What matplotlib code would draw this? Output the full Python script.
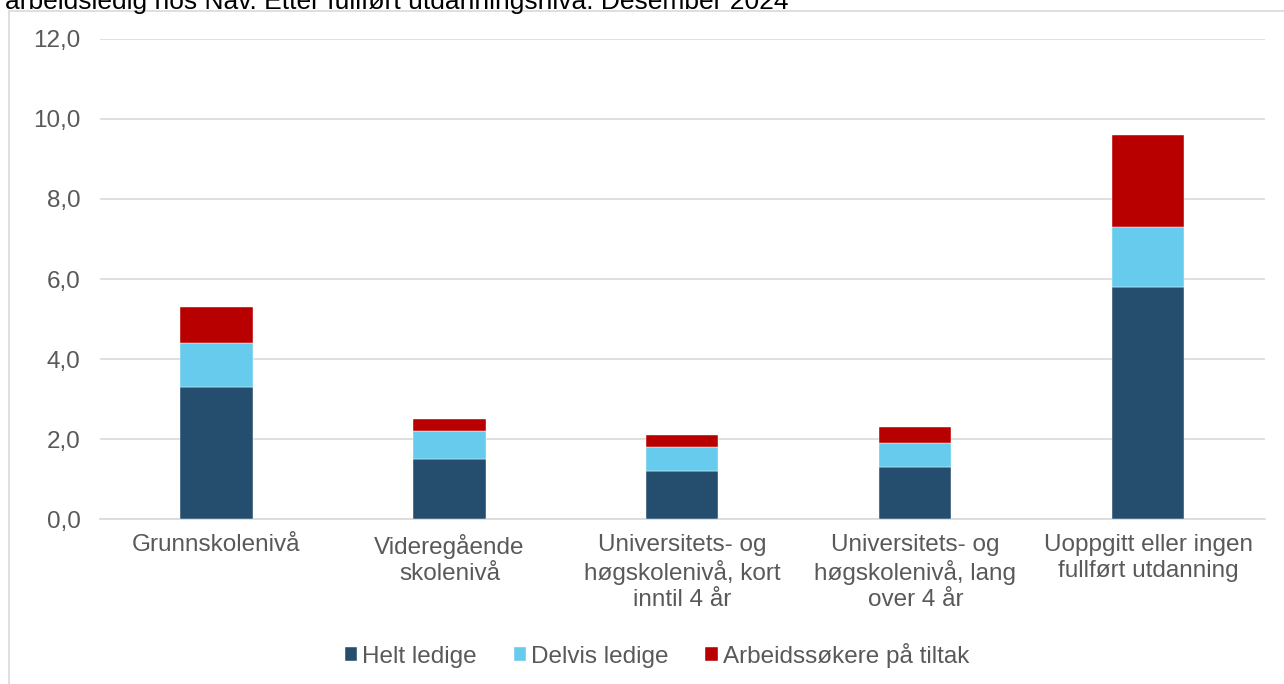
import matplotlib.pyplot as plt
from matplotlib.patches import Rectangle
import numpy as np

# education levels and the three stacked series (percent)
categories = ['Grunnskolenivå', 'Videregående\nskolenivå',
              'Universitets- og\nhøgskolenivå, kort\ninntil 4 år',
              'Universitets- og\nhøgskolenivå, lang\nover 4 år',
              'Uoppgitt eller ingen\nfullført utdanning']
helt = [3.3, 1.5, 1.2, 1.3, 5.8]
delvis = [1.1, 0.7, 0.6, 0.6, 1.5]
tiltak = [0.9, 0.3, 0.3, 0.4, 2.3]
series_names = ['Helt ledige', 'Delvis ledige', 'Arbeidssøkere på tiltak']
yticks = [0, 2, 4, 6, 8, 10, 12]

colors = ['#254e6e', '#66cbec', '#b90000']
grey = '#595959'
fs = 17.5

plt.rcParams['font.family'] = ['Liberation Sans', 'DejaVu Sans']

fig = plt.figure(figsize=(12.84, 6.84), dpi=100)
ax = fig.add_axes([0.0779, 0.2412, 0.9071, 0.7018])

# chart frame like the spreadsheet chart area
fig.patches.append(Rectangle((9 / 1284, -0.01), 1.0, 1 - 11 / 684 + 0.01,
                             transform=fig.transFigure, fill=False,
                             edgecolor='#d9d9d9', linewidth=1.2))
fig.text(5 / 1284, 1 - 8.5 / 684, 'arbeidsledig hos Nav. Etter fullført utdanningsnivå. Desember 2024',
         fontsize=19, color='black', va='baseline', ha='left')

x = np.arange(len(categories))
w = 0.31
bottom = np.zeros(len(categories))
for vals, col, name in zip([helt, delvis, tiltak], colors, series_names):
    ax.bar(x, vals, w, bottom=bottom, color=col, label=name, zorder=3,
           edgecolor='white', linewidth=0.3)
    bottom += np.array(vals)

ax.set_xlim(-0.5, len(categories) - 0.5)
ax.set_ylim(0, 12)
ax.set_yticks(yticks)
ax.set_yticklabels([f'{v:.1f}'.replace('.', ',') for v in yticks])
ax.set_xticks(x)
ax.set_xticklabels(categories, fontsize=fs, color=grey, linespacing=1.2)
ax.tick_params(axis='y', labelsize=fs, labelcolor=grey, length=0, pad=14)
ax.tick_params(axis='x', length=0, pad=11)
ax.grid(axis='y', color='#d9d9d9', linewidth=1.2, zorder=0)
for s in ['top', 'right', 'left']:
    ax.spines[s].set_visible(False)
ax.spines['bottom'].set_color('#d9d9d9')
ax.spines['bottom'].set_linewidth(1.2)

fig.legend(loc='center', bbox_to_anchor=(657 / 1284, 1 - 655 / 684), ncol=3,
           frameon=False, fontsize=fs, labelcolor=grey, handlelength=0.51,
           handleheight=0.51, handletextpad=0.22, columnspacing=1.5)

fig.savefig('out.png', dpi=100)
